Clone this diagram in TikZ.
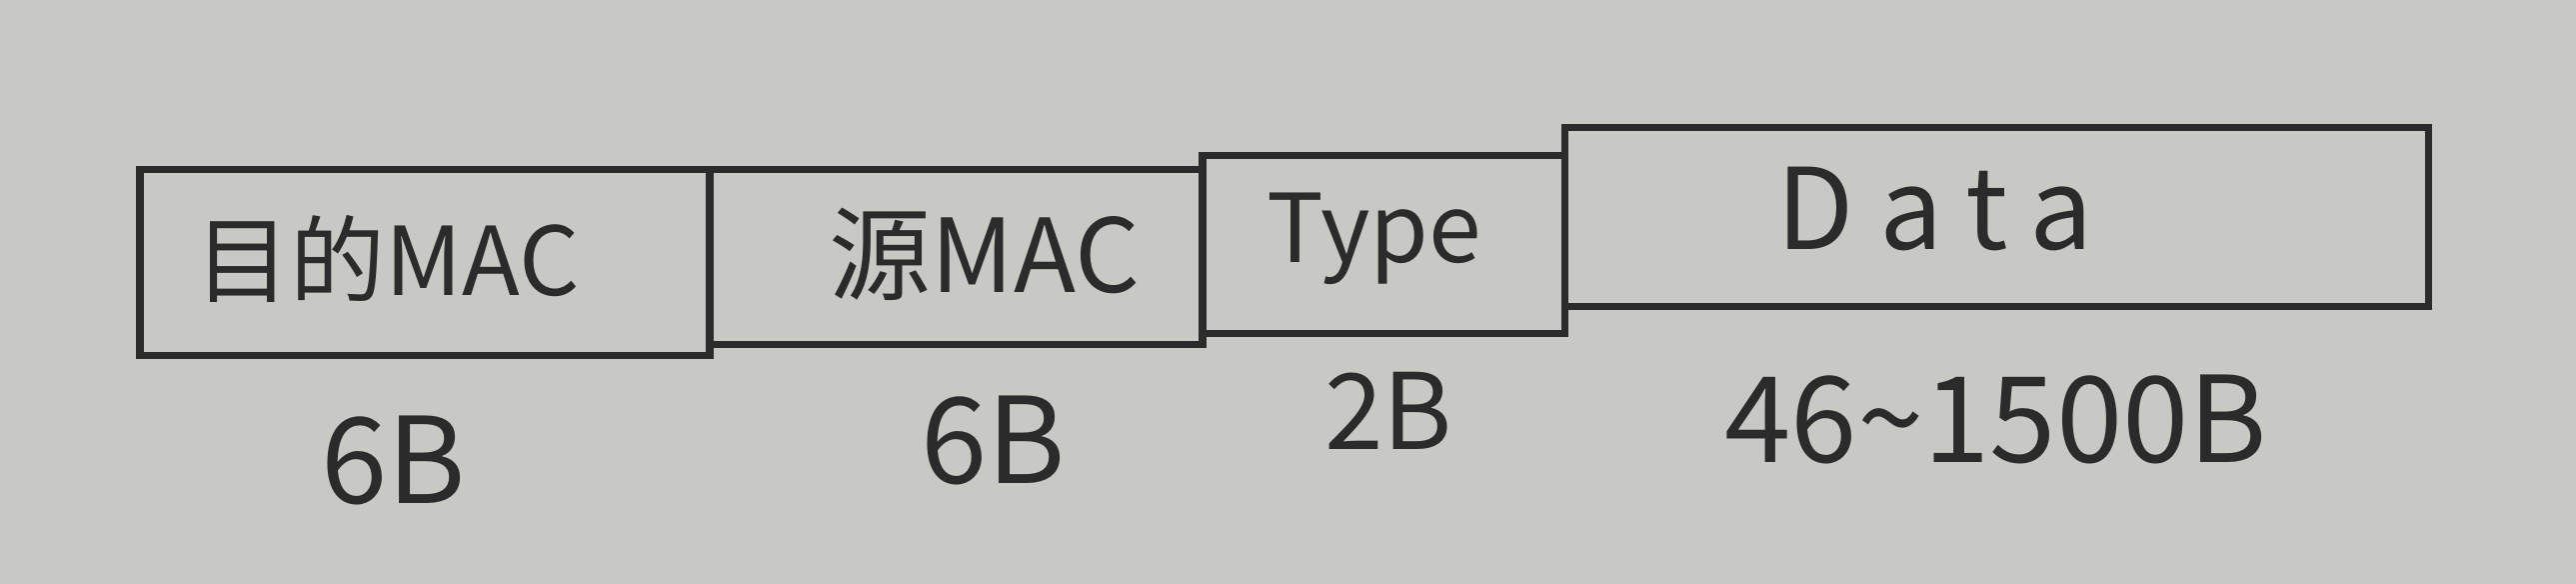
\documentclass[tikz,border=0pt]{standalone}
\usepackage{fontspec}
\setmainfont{Noto Sans CJK SC}
\definecolor{paper}{HTML}{C8C8C4}
\definecolor{ink}{HTML}{2B2B2B}
\begin{document}
\begin{tikzpicture}[field/.style={draw=ink, line width=2pt, inner sep=0pt, text=ink, font=\fontsize{26}{30}\selectfont},
    size/.style={text=ink, inner sep=0pt, font=\fontsize{34}{38}\selectfont}]
    \fill[paper] (0, 0) rectangle (25.77, 5.84);
    \useasboundingbox (0, 0) rectangle (25.77, 5.84);
    %Nodes
    \node[field, minimum width=5.70cm, minimum height=1.86cm] at (4.25, 3.21) (dst) {};
    \node[field, minimum width=4.93cm, minimum height=1.75cm] at (9.565, 3.265) (src) {};
    \node[field, minimum width=3.62cm, minimum height=1.78cm] at (13.84, 3.39) (type) {};
    \node[field, minimum width=8.64cm, minimum height=1.79cm] at (19.97, 3.665) (data) {};

    %Texts
    \node[text=ink, font=\fontsize{27}{30}\selectfont] at (3.88, 3.25) (dsttxt) {目的MAC};
    \node[text=ink, font=\fontsize{29}{32}\selectfont] at (9.85, 3.3) (srctxt) {源MAC};
    \node[text=ink, font=\fontsize{27}{30}\selectfont] at (13.75, 3.45) (typetxt) {Type};
    \node[text=ink, font=\fontsize{32}{36}\selectfont] at (19.36, 3.75) (datatxt) {\addfontfeature{LetterSpace=22}Data};

    %Sizes
    \node[size] at (3.94, 1.24) (dstlen) {6B};
    \node[size] at (9.94, 1.44) (srclen) {6B};
    \node[size, font=\fontsize{30}{34}\selectfont] at (13.89, 1.73) (typelen) {2B};
    \node[size] at (19.97, 1.65) (datalen) {46\textasciitilde1500B};
\end{tikzpicture}
\end{document}
